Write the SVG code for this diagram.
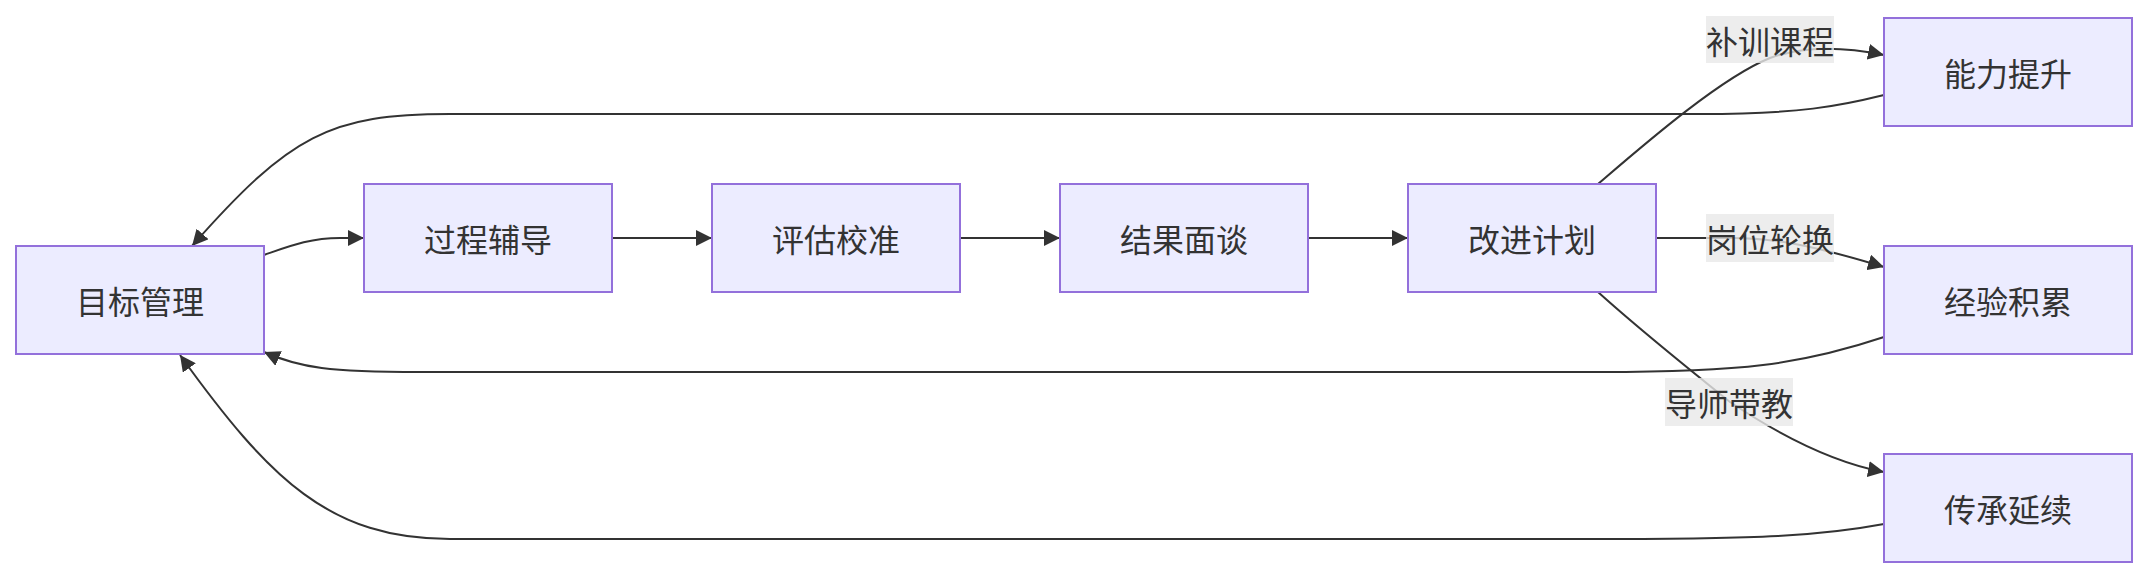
<svg xmlns="http://www.w3.org/2000/svg" width="2148" height="578" viewBox="0 0 2148 578">
<style>
.node rect{fill:#ECECFF;stroke:#9370DB;stroke-width:2}
.node text,.lbl text{font-family:"Noto Sans CJK SC","Noto Sans",sans-serif;font-size:32px;fill:#333;text-anchor:middle;dominant-baseline:central}
.edge{fill:none;stroke:#333;stroke-width:2}
.lbl rect{fill:#e8e8e8;fill-opacity:0.8}
</style>
<defs>
<marker id="arr" viewBox="0 0 10 10" refX="10" refY="5" markerUnits="userSpaceOnUse" markerWidth="16" markerHeight="16" orient="auto">
<path d="M0,0 L10,5 L0,10 z" fill="#333"/>
</marker>
</defs>
<rect width="2148" height="578" fill="#fff"/>
<g id="connectors">
<path class="edge" marker-end="url(#arr)" d="M264,255 C290,246 310,238 340,238 L364,238"/>
<path class="edge" marker-end="url(#arr)" d="M612,238 L712,238"/>
<path class="edge" marker-end="url(#arr)" d="M960,238 L1060,238"/>
<path class="edge" marker-end="url(#arr)" d="M1308,238 L1408,238"/>
<path class="edge" marker-end="url(#arr)" d="M1598,184 C1640,148 1720,78 1770,58 C1800,47 1840,46 1884,55"/>
<path class="edge" marker-end="url(#arr)" d="M1656,238 L1730,238 C1770,238 1805,243 1884,267"/>
<path class="edge" marker-end="url(#arr)" d="M1598,292 C1640,330 1690,370 1730,402 C1775,432 1830,462 1884,472"/>
<path class="edge" marker-end="url(#arr)" d="M1884,95 C1840,106 1800,114 1700,114 L450,114 C330,114 290,135 192,246"/>
<path class="edge" marker-end="url(#arr)" d="M1884,337 C1800,365 1740,372 1600,372 L420,372 C330,372 300,368 264,352"/>
<path class="edge" marker-end="url(#arr)" d="M1884,524 C1820,536 1760,539 1600,539 L450,539 C330,539 270,480 180,355"/>
<g class="lbl" id="label-bx"><rect x="1706" y="16" width="128" height="47"/><text x="1770" y="40">补训课程</text></g>
<g class="lbl" id="label-gw"><rect x="1706" y="214" width="128" height="48"/><text x="1770" y="238">岗位轮换</text></g>
<g class="lbl" id="label-ds"><rect x="1665" y="378" width="128" height="48"/><text x="1729" y="402">导师带教</text></g>
</g>
<g id="n-mbgl" class="node"><rect x="16" y="246" width="248" height="108"/><text x="140" y="300">目标管理</text></g>
<g id="n-gcfd" class="node"><rect x="364" y="184" width="248" height="108"/><text x="488" y="238">过程辅导</text></g>
<g id="n-pgjz" class="node"><rect x="712" y="184" width="248" height="108"/><text x="836" y="238">评估校准</text></g>
<g id="n-jgmt" class="node"><rect x="1060" y="184" width="248" height="108"/><text x="1184" y="238">结果面谈</text></g>
<g id="n-gjjh" class="node"><rect x="1408" y="184" width="248" height="108"/><text x="1532" y="238">改进计划</text></g>
<g id="n-nlts" class="node"><rect x="1884" y="18" width="248" height="108"/><text x="2008" y="72">能力提升</text></g>
<g id="n-jyjl" class="node"><rect x="1884" y="246" width="248" height="108"/><text x="2008" y="300">经验积累</text></g>
<g id="n-ccyx" class="node"><rect x="1884" y="454" width="248" height="108"/><text x="2008" y="508">传承延续</text></g>
</svg>
